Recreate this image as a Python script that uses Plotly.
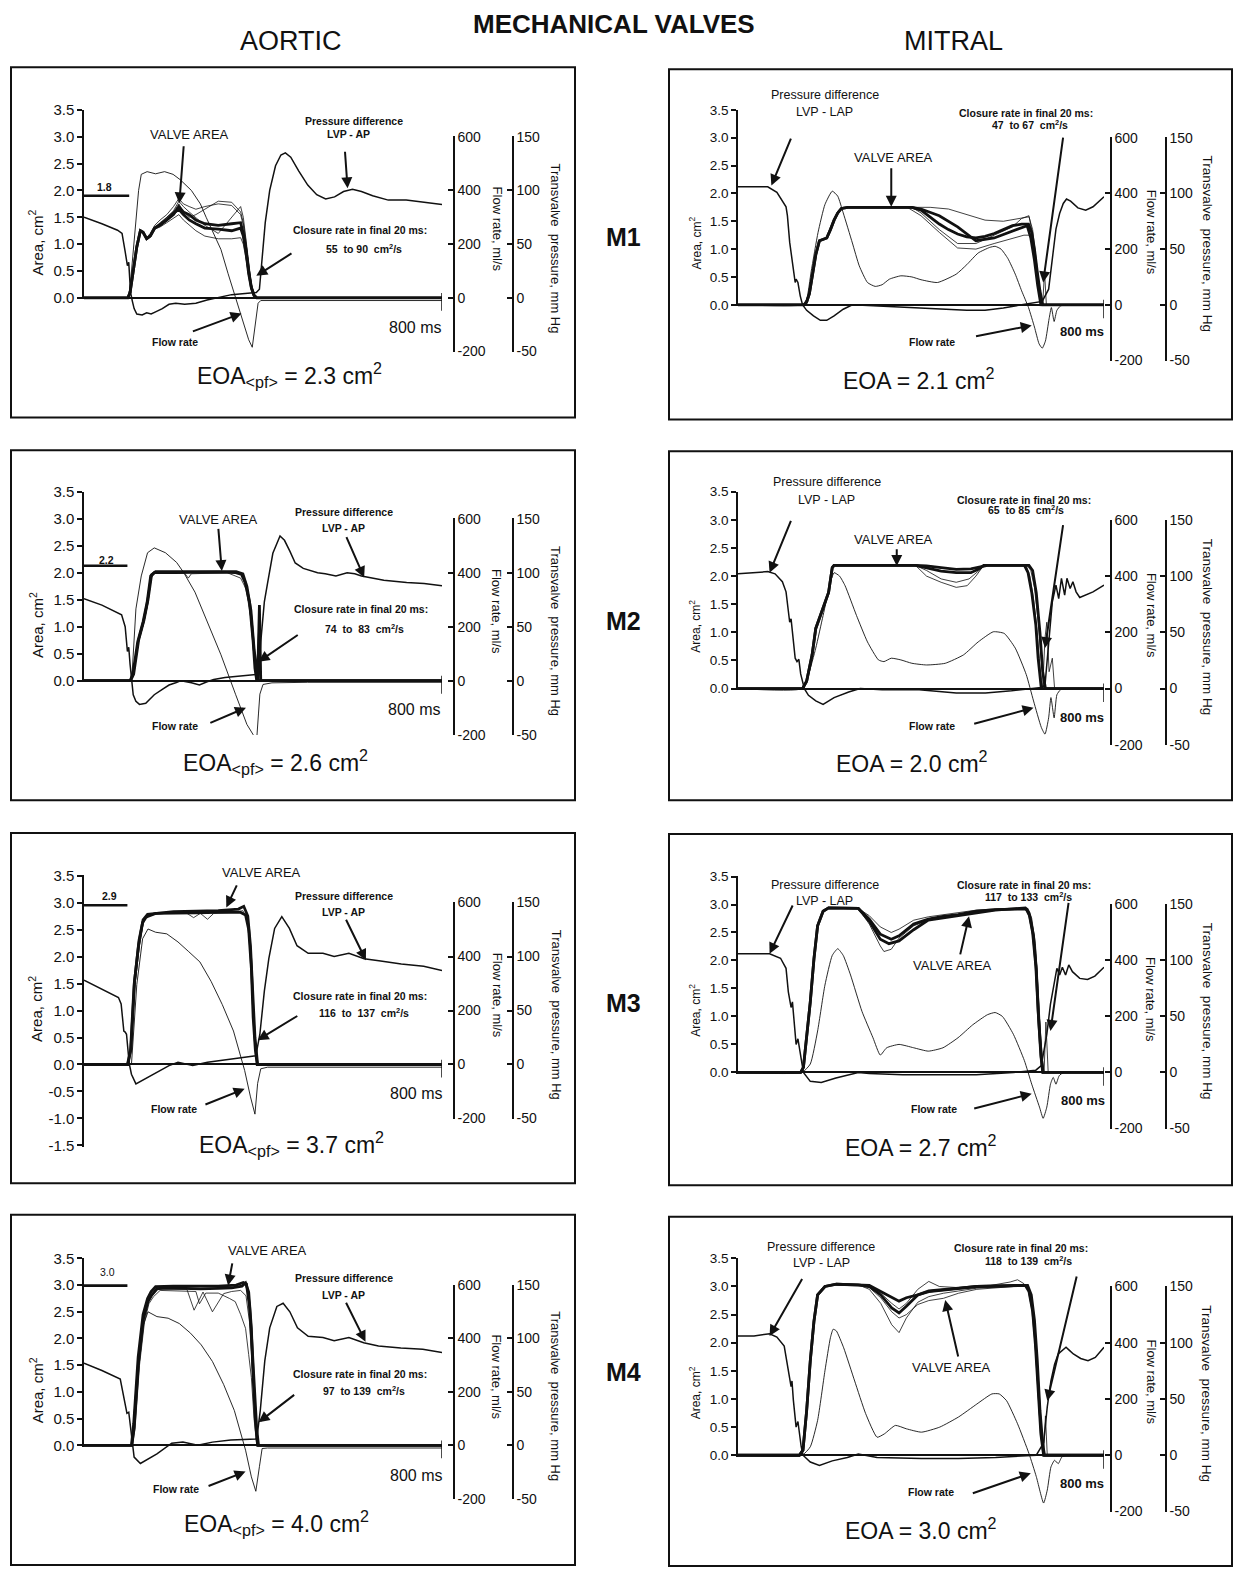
import plotly.graph_objects as go

W, H = 1234, 1576
FONT = "Liberation Sans, Arial, Helvetica, sans-serif"
INK = "#111111"

# ---------------- text / ticks ----------------
TITLE_MAIN = "MECHANICAL VALVES"
COLUMN_TITLES = ["AORTIC", "MITRAL"]
ROW_TITLES = ["M1", "M2", "M3", "M4"]
AREA_TICKS = [0.0, 0.5, 1.0, 1.5, 2.0, 2.5, 3.0, 3.5]
AREA_TICKS_NEG = [-1.5, -1.0, -0.5, 0.0, 0.5, 1.0, 1.5, 2.0, 2.5, 3.0, 3.5]
FLOW_TICKS = [-200, 0, 200, 400, 600]
PRESSURE_TICKS = [-50, 0, 50, 100, 150]
AREA_TITLE = "Area, cm<sup>2</sup>"
FLOW_TITLE = "Flow rate, ml/s"
PRESSURE_TITLE = "Transvalve  pressure, mm Hg"
TIME_LABEL = "800 ms"
T_END = 800

# ---------------- AORTIC M1 ----------------
AR1_PRESSURE = [(0,75),(40,69),(75,63),(85,60),(92,43),(97,30),(100,33),(104,5),(108,-3),(112,-10),(118,-15),(130,-16),(140,-14),(150,-15),(160,-13),(175,-10),(190,-6),(205,-5),(225,-6),(250,-5),(275,-2),(300,0),(330,3),(360,4),(385,5),(392,8),(398,35),(405,70),(415,100),(428,123),(440,133),(450,135),(462,131),(480,118),(500,105),(520,96),(540,92),(560,94),(580,99),(600,101),(620,99),(645,95),(680,91),(720,91),(760,89),(800,87)]
AR1_FLOW = [(0,0),(98,0),(103,40),(110,180),(116,300),(122,400),(128,460),(141,470),(160,462),(180,470),(199,460),(215,440),(240,400),(260,350),(273,300),(290,240),(306,180),(322,90),(339,0),(350,-60),(360,-110),(368,-156),(376,-184),(382,-110),(389,-20),(395,-10),(420,-10),(500,-10),(600,-8),(700,-10),(800,-10)]
AR1_AREA_THICK = [
    [(0,0),(98,0),(103,0.1),(110,0.5),(118,0.95),(126,1.25),(132,1.22),(140,1.1),(148,1.15),(158,1.3),(170,1.35),(185,1.45),(200,1.55),(212,1.7),(222,1.6),(235,1.55),(250,1.45),(270,1.38),(300,1.35),(330,1.38),(350,1.4),(356,1.2),(362,0.9),(368,0.5),(374,0.2),(380,0.05),(386,0),(800,0)],
    [(0,0),(98,0),(103,0.1),(110,0.5),(118,0.95),(126,1.25),(132,1.22),(140,1.1),(148,1.15),(158,1.3),(170,1.36),(185,1.45),(200,1.58),(212,1.65),(222,1.55),(235,1.45),(250,1.38),(270,1.3),(300,1.28),(330,1.25),(350,1.3),(356,1.15),(362,0.85),(368,0.45),(374,0.18),(380,0.04),(386,0),(800,0)],
]
AR1_AREA_THIN = [
    [(0,0),(98,0),(103,0.1),(110,0.5),(118,0.95),(126,1.25),(132,1.22),(140,1.12),(148,1.2),(158,1.35),(170,1.45),(185,1.55),(200,1.7),(212,1.85),(222,1.75),(235,1.7),(250,1.65),(270,1.7),(300,1.75),(330,1.72),(350,1.55),(356,1.35),(362,1.0),(368,0.6),(374,0.25),(380,0.08),(386,0),(800,0)],
    [(0,0),(98,0),(103,0.1),(110,0.5),(118,0.95),(126,1.25),(132,1.22),(140,1.1),(148,1.15),(158,1.28),(170,1.32),(185,1.4),(200,1.48),(212,1.55),(222,1.45),(235,1.35),(250,1.25),(270,1.15),(300,1.1),(330,1.1),(350,1.12),(356,1.0),(362,0.75),(368,0.45),(374,0.15),(380,0.03),(386,0),(800,0)],
    [(0,0),(98,0),(103,0.1),(110,0.5),(118,0.95),(126,1.25),(132,1.22),(140,1.1),(148,1.15),(158,1.3),(170,1.38),(185,1.5),(200,1.62),(212,1.8),(222,1.7),(235,1.6),(250,1.5),(270,1.35),(300,1.2),(330,1.5),(350,1.7),(356,1.5),(362,1.1),(368,0.6),(374,0.25),(380,0.05),(386,0),(800,0)],
    [(0,0),(98,0),(103,0.1),(110,0.5),(118,0.95),(126,1.25),(132,1.22),(140,1.1),(148,1.15),(158,1.3),(170,1.4),(185,1.5),(200,1.6),(212,1.75),(222,1.6),(235,1.5),(250,1.55),(270,1.65),(300,1.8),(330,1.78),(350,1.6),(356,1.4),(362,1.05),(368,0.55),(374,0.2),(380,0.05),(386,0),(800,0)],
]
AR1_REF = (1.9, 101)
AR1_TEXT = [("VALVE AREA",236,3.05,13,0),("Pressure difference",604,3.30,10.5,1),("LVP - AP",590,3.06,10.5,1),
            ("1.8",46,2.07,10.5,1),("Closure rate in final 20 ms:",616,1.27,10.5,1),("55  to 90  cm<sup>2</sup>/s",625,0.91,10.5,1),
            ("Flow rate",203,-0.83,10.5,1),("EOA<sub>&lt;pf&gt;</sub> = 2.3 cm<sup>2</sup>",459,-1.43,23,0)]
AR1_ARROWS = [(223,2.84,213,1.76),(583,2.74,589,2.04),(467,0.84,385,0.41),(240,-0.63,352,-0.29)]
AR1_TIME_POS = (740, -0.56)

# ---------------- AORTIC M2 ----------------
AR2_PRESSURE = [(0,76),(40,70),(84,61),(92,50),(97,27),(100,31),(103,15),(107,1),(110,-13),(116,-19),(124,-22),(138,-21),(157,-13),(175,-8),(190,-4),(205,-2),(217,0),(240,-2),(258,-4),(275,-1),(290,1),(315,3),(339,4),(360,5),(382,6),(390,6),(395,36),(399,55),(403,73),(410,90),(422,118),(438,134),(448,130),(460,120),(472,109),(490,104),(506,102),(522,100),(539,99),(563,97),(588,100),(605,99),(620,97),(645,95),(670,93),(721,91),(760,90),(800,88)]
AR2_FLOW = [(0,0),(103,0),(108,40),(116,266),(128,388),(142,474),(157,492),(182,474),(207,438),(223,400),(248,328),(273,230),(306,96),(339,-52),(364,-162),(378,-200),(386,-215),(390,-120),(393,-50),(400,-14),(420,-8),(500,-6),(600,-6),(700,-6),(800,-6)]
AR2_AREA_THICK = [
    [(0,0),(103,0),(109,0.11),(120,0.72),(132,1.09),(141,1.45),(149,1.94),(157,2.0),(200,2.0),(250,2.01),(300,2.01),(339,2.0),(352,1.97),(360,1.82),(370,1.45),(378,0.72),(382,0.23),(386,0),(800,0)],
    [(0,0),(104,0),(111,0.12),(122,0.75),(134,1.12),(143,1.5),(151,1.96),(160,2.02),(340,2.02),(355,1.98),(364,1.75),(373,1.3),(380,0.6),(386,0.05),(388,0),(392,1.4),(395,0),(800,0)],
]
AR2_AREA_THIN = [
    [(0,0),(103,0),(110,0.1),(121,0.7),(133,1.05),(142,1.4),(150,1.9),(158,1.99),(225,1.99),(233,1.9),(240,1.98),(320,2.0),(335,1.95),(350,1.9),(362,1.7),(372,1.2),(380,0.5),(385,0),(390,0.9),(393,0),(800,0)],
]
AR2_REF = (2.13, 97)
AR2_TEXT = [("VALVE AREA",300,2.98,13,0),("Pressure difference",581,3.13,10.5,1),("LVP - AP",581,2.83,10.5,1),
            ("2.2",50,2.24,10.5,1),("Closure rate in final 20 ms:",618,1.33,10.5,1),("74  to  83  cm<sup>2</sup>/s",626,0.97,10.5,1),
            ("Flow rate",204,-0.84,10.5,1),("EOA<sub>&lt;pf&gt;</sub> = 2.6 cm<sup>2</sup>",428,-1.51,23,0)]
AR2_ARROWS = [(300,2.83,308,2.03),(585,2.68,626,1.91),(481,0.86,390,0.35),(279,-0.79,362,-0.5)]
AR2_TIME_POS = (738, -0.53)

# ---------------- AORTIC M3 ----------------
AR3_PRESSURE = [(0,78),(40,70),(77,62),(83,56),(89,31),(92,30),(95,28),(101,1),(106,-9),(116,-18),(125,-16),(143,-12),(168,-6),(190,-1),(210,2),(243,-1),(276,2),(309,4),(351,6),(384,8),(393,28),(403,68),(413,98),(426,126),(442,137),(459,126),(476,110),(501,103),(534,103),(559,100),(592,103),(626,98),(659,96),(709,93),(759,91),(800,87)]
AR3_FLOW = [(0,0),(106,0),(118,296),(131,466),(143,502),(160,490),(185,484),(210,454),(234,418),(259,380),(284,308),(309,222),(334,124),(359,-22),(372,-120),(382,-184),(388,-70),(395,-16),(410,-10),(500,-10),(600,-10),(700,-10),(800,-10)]
AR3_AREA_THICK = [
    [(0,0),(97,0),(104,0.26),(112,1.48),(122,2.21),(131,2.63),(138,2.72),(141,2.74),(160,2.8),(200,2.81),(250,2.81),(300,2.82),(349,2.82),(361,2.77),(368,2.5),(374,1.78),(378,0.87),(383,0.26),(387,0),(800,0)],
    [(0,0),(98,0),(105,0.3),(113,1.55),(123,2.3),(132,2.68),(142,2.78),(200,2.83),(300,2.85),(345,2.88),(357,2.93),(366,2.75),(372,2.2),(377,1.3),(382,0.5),(388,0),(800,0)],
]
AR3_AREA_THIN = [
    [(0,0),(98,0),(105,0.25),(113,1.4),(123,2.15),(132,2.6),(140,2.75),(160,2.8),(230,2.8),(245,2.72),(260,2.8),(276,2.69),(290,2.8),(340,2.82),(355,2.85),(364,2.7),(370,2.3),(376,1.5),(381,0.6),(386,0),(800,0)],
]
AR3_REF = (2.95, 97)
AR3_TEXT = [("VALVE AREA",397,3.55,13,0),("Pressure difference",580,3.13,10.5,1),("LVP - AP",580,2.82,10.5,1),
            ("2.9",56,3.13,10.5,1),("Closure rate in final 20 ms:",617,1.26,10.5,1),("116  to  137  cm<sup>2</sup>/s",625,0.96,10.5,1),
            ("Flow rate",201,-0.82,10.5,1),("EOA<sub>&lt;pf&gt;</sub> = 3.7 cm<sup>2</sup>",463,-1.48,23,0)]
AR3_ARROWS = [(343,3.34,318,2.91),(584,2.7,630,1.93),(480,0.91,388,0.45),(268,-0.75,359,-0.45)]
AR3_TIME_POS = (742, -0.54)

# ---------------- AORTIC M4 ----------------
AR4_PRESSURE = [(0,77),(40,70),(81,62),(88,48),(96,30),(100,31),(103,20),(107,2),(112,-11),(126,-17),(139,-14),(163,-8),(196,2),(221,3),(254,0),(287,3),(328,5),(370,6),(386,6),(394,33),(404,79),(415,110),(431,130),(445,133),(460,125),(477,110),(501,102),(534,101),(559,98),(592,101),(625,96),(658,93),(708,91),(757,90),(800,87)]
AR4_FLOW = [(0,0),(107,0),(118,254),(130,438),(143,500),(163,482),(188,476),(213,456),(238,420),(262,376),(287,314),(312,228),(336,130),(361,-18),(374,-118),(384,-172),(392,-80),(398,-12),(410,-10),(500,-10),(600,-10),(700,-10),(800,-10)]
AR4_AREA_THICK = [
    [(0,0),(107,0),(112,0.34),(122,1.57),(133,2.38),(143,2.69),(151,2.81),(163,2.93),(180,2.95),(220,2.94),(260,2.93),(300,2.94),(330,2.95),(353,2.98),(361,3.04),(368,2.87),(374,2.19),(378,1.27),(383,0.46),(388,0),(800,0)],
    [(0,0),(106,0),(111,0.4),(121,1.65),(132,2.45),(142,2.75),(150,2.88),(160,2.97),(200,2.98),(300,2.98),(340,3.0),(356,3.05),(363,3.02),(370,2.6),(376,1.8),(381,0.9),(386,0.3),(390,0),(800,0)],
]
AR4_AREA_THIN = [
    [(0,0),(107,0),(113,0.3),(123,1.5),(134,2.35),(144,2.68),(152,2.8),(165,2.92),(230,2.92),(246,2.53),(266,2.87),(287,2.5),(312,2.84),(330,2.88),(350,2.9),(362,2.8),(370,2.3),(376,1.4),(381,0.5),(386,0),(800,0)],
    [(0,0),(108,0),(114,0.3),(124,1.5),(135,2.3),(145,2.65),(155,2.78),(170,2.9),(250,2.88),(258,2.65),(272,2.85),(300,2.85),(325,2.75),(338,2.69),(350,2.45),(361,2.19),(368,1.7),(374,1.27),(380,0.5),(386,0),(800,0)],
]
AR4_REF = (2.99, 97)
AR4_TEXT = [("VALVE AREA",411,3.64,13,0),("Pressure difference",580,3.13,10.5,1),("LVP - AP",580,2.82,10.5,1),
            ("3.0",52,3.25,10.5,0),("Closure rate in final 20 ms:",617,1.33,10.5,1),("97  to 139  cm<sup>2</sup>/s",625,1.02,10.5,1),
            ("Flow rate",205,-0.82,10.5,1),("EOA<sub>&lt;pf&gt;</sub> = 4.0 cm<sup>2</sup>",431,-1.45,23,0)]
AR4_ARROWS = [(332,3.43,322,2.99),(584,2.69,629,1.94),(473,0.96,390,0.43),(275,-0.77,361,-0.49)]
AR4_TIME_POS = (741, -0.56)

# ---------------- MITRAL M1 ----------------
MR1_PRESSURE = [(0,106),(30,106),(65,106),(85,101),(95,95),(105,88),(108,80),(113,56),(120,35),(125,20),(127,23),(131,20),(136,8),(141,0),(150,-5),(165,-10),(180,-14),(194,-14),(210,-10),(230,-4),(250,0),(300,-1),(350,-2),(400,-3),(450,-4),(500,-5),(540,-5),(580,-3),(620,0),(650,2),(665,3),(679,14),(687,44),(695,68),(703,82),(711,91),(718,95),(727,93),(743,87),(760,85),(776,88),(800,97)]
MR1_FLOW = [(0,0),(140,0),(150,20),(160,120),(175,260),(190,360),(206,408),(218,390),(230,330),(250,222),(265,140),(283,80),(300,66),(315,72),(331,92),(356,104),(380,100),(400,90),(436,80),(477,110),(500,144),(525,186),(550,206),(562,210),(575,200),(590,166),(606,110),(620,50),(635,-10),(648,-80),(658,-140),(665,-156),(672,-130),(680,-50),(685,-10),(691,-60),(697,-20),(705,-4),(720,0),(800,0)]
MR1_AREA_RISE = [(0,0),(145,0),(150,0.05),(156,0.2),(163,0.55),(170,0.9),(178,1.15),(186,1.18),(194,1.2),(202,1.35),(210,1.52),(218,1.65),(226,1.73),(240,1.75)]
MR1_AREA_THICK_TAILS = [
    [(300,1.75),(380,1.75),(400,1.7),(420,1.58),(440,1.45),(460,1.35),(480,1.27),(500,1.22),(520,1.2),(540,1.23),(560,1.28),(580,1.35),(600,1.42),(620,1.45),(635,1.45),(642,1.3),(648,1.0),(654,0.6),(660,0.25),(666,0),(800,0)],
    [(380,1.75),(400,1.72),(440,1.6),(480,1.4),(520,1.15),(560,1.2),(600,1.32),(632,1.42),(640,1.2),(648,0.8),(655,0.35),(662,0),(800,0)],
]
MR1_AREA_THIN_TAILS = [
    [(420,1.75),(460,1.72),(500,1.62),(540,1.52),(580,1.5),(620,1.55),(636,1.58),(644,1.35),(650,0.9),(656,0.45),(662,0.1),(666,0),(670,0.6),(674,0),(800,0)],
    [(370,1.75),(400,1.6),(440,1.3),(480,1.02),(520,1.0),(560,1.1),(600,1.2),(625,1.25),(638,1.25),(645,1.0),(652,0.55),(658,0.2),(664,0),(800,0)],
    [(380,1.75),(400,1.65),(440,1.35),(480,1.1),(520,1.1),(560,1.25),(600,1.4),(620,1.55),(636,1.6),(643,1.3),(650,0.8),(657,0.3),(664,0),(800,0)],
]
MR1_TEXT = [("Pressure difference",190,3.77,12.5,0),("LVP - LAP",190,3.47,12.5,0),("VALVE AREA",339,2.64,13,0),
            ("Closure rate in final 20 ms:",630,3.44,10.5,1),("47  to 67  cm<sup>2</sup>/s",638,3.23,10.5,1),
            ("Flow rate",424,-0.67,10.5,1),("EOA = 2.1 cm<sup>2</sup>",396,-1.34,23,0)]
MR1_ARROWS = [(117,3.0,73,2.14),(335,2.47,335,1.76),(711,3.0,667,0.4),(517,-0.57,642,-0.37)]
MR1_TIME_POS = (752, -0.48)

# ---------------- MITRAL M2 ----------------
MR2_PRESSURE = [(0,102),(30,103),(65,104),(81,102),(97,95),(105,86),(109,71),(113,59),(116,62),(120,45),(125,27),(129,24),(133,26),(137,13),(145,0),(154,-6),(170,-11),(186,-14),(210,-8),(242,-3),(267,0),(315,-1),(396,-1),(477,-4),(541,-4),(598,-2),(638,0),(663,1),(671,3),(679,42),(687,77),(695,92),(701,80),(707,98),(714,83),(719,98),(726,89),(732,95),(739,86),(747,81),(760,83),(776,86),(800,92)]
MR2_FLOW = [(0,0),(140,0),(154,50),(170,144),(186,260),(202,378),(210,412),(222,400),(234,366),(259,260),(283,166),(307,102),(319,96),(335,108),(356,102),(380,90),(412,84),(453,90),(493,120),(525,166),(558,202),(582,196),(606,144),(630,50),(646,-44),(663,-138),(671,-162),(679,-104),(684,-32),(691,-104),(697,-22),(705,-4),(720,0),(800,0)]
MR2_AREA_RISE = [(0,0),(141,0),(150,0.13),(162,0.6),(170,1.07),(186,1.42),(198,1.71),(206,2.15),(210,2.19),(388,2.19)]
MR2_AREA_THICK_TAILS = [
    [(412,2.15),(444,2.09),(477,2.06),(509,2.06),(525,2.12),(537,2.19),(626,2.19),(634,2.06),(642,1.71),(651,1.13),(656,0.54),(663,0),(800,0)],
    [(412,2.18),(444,2.15),(477,2.12),(509,2.13),(530,2.17),(545,2.19),(636,2.19),(644,2.1),(652,1.7),(660,1.0),(666,0.3),(672,0),(800,0)],
]
MR2_AREA_THIN_TAILS = [
    [(412,2.0),(444,1.89),(477,1.8),(501,1.83),(520,2.0),(537,2.19),(630,2.19),(638,2.0),(646,1.6),(654,1.0),(660,0.4),(666,0),(671,0.9),(675,1.18),(680,0.3),(687,0.54),(692,0),(800,0)],
    [(412,2.1),(444,1.95),(477,1.89),(505,1.95),(525,2.08),(540,2.19),(632,2.19),(640,2.1),(648,1.8),(656,1.2),(663,0.5),(669,0),(800,0)],
]
MR2_TEXT = [("Pressure difference",194,3.68,12.5,0),("LVP - LAP",194,3.35,12.5,0),("VALVE AREA",339,2.65,13,0),
            ("Closure rate in final 20 ms:",626,3.35,10.5,1),("65  to 85  cm<sup>2</sup>/s",630,3.18,10.5,1),
            ("Flow rate",424,-0.66,10.5,1),("EOA = 2.0 cm<sup>2</sup>",380,-1.31,23,0)]
MR2_ARROWS = [(117,3.0,69,2.06),(347,2.5,347,2.18),(711,2.91,671,0.72),(513,-0.63,646,-0.34)]
MR2_TIME_POS = (752, -0.52)

# ---------------- MITRAL M3 ----------------
MR3_PRESSURE = [(0,106),(30,106),(69,106),(93,102),(105,93),(110,72),(116,58),(119,63),(122,49),(127,25),(131,30),(135,19),(143,0),(158,-8),(182,-9),(214,-5),(263,0),(287,-1),(360,-2),(440,-2),(521,-2),(602,0),(651,2),(663,6),(675,34),(683,61),(691,78),(697,93),(703,87),(709,94),(716,87),(723,96),(731,90),(747,84),(764,83),(780,86),(800,94)]
MR3_FLOW = [(0,0),(140,0),(158,30),(174,148),(190,312),(206,418),(218,442),(230,418),(246,348),(271,218),(295,124),(311,62),(325,88),(352,100),(384,88),(416,76),(448,88),(481,124),(513,170),(545,206),(562,214),(578,200),(602,136),(626,42),(642,-42),(659,-124),(667,-164),(675,-124),(683,-42),(689,-18),(695,-42),(702,-12),(712,0),(800,0)]
MR3_AREA_RISE = [(0,0),(137,0),(143,0.09),(151,0.68),(158,1.26),(166,2.03),(174,2.62),(186,2.88),(198,2.94),(263,2.93)]
MR3_AREA_THICK_TAILS = [
    [(287,2.74),(311,2.47),(335,2.38),(352,2.44),(384,2.65),(416,2.74),(448,2.79),(481,2.82),(521,2.88),(562,2.91),(610,2.92),(630,2.92),(638,2.79),(646,2.44),(652,1.85),(657,0.97),(663,0.26),(667,0),(800,0)],
    [(287,2.7),(311,2.38),(330,2.3),(352,2.35),(384,2.55),(416,2.72),(448,2.76),(481,2.79),(521,2.85),(562,2.9),(628,2.94),(636,2.85),(644,2.5),(651,1.9),(656,1.1),(662,0.3),(666,0),(800,0)],
]
MR3_AREA_THIN_TAILS = [
    [(287,2.65),(311,2.26),(319,2.16),(335,2.2),(352,2.4),(384,2.62),(416,2.72),(448,2.78),(481,2.8),(521,2.86),(562,2.9),(632,2.93),(640,2.7),(648,2.2),(654,1.4),(660,0.6),(666,0.1),(669,0),(673,0.9),(678,0),(800,0)],
    [(287,2.8),(311,2.6),(335,2.5),(352,2.56),(384,2.72),(416,2.78),(448,2.82),(481,2.85),(521,2.9),(562,2.92),(634,2.93),(642,2.75),(650,2.3),(656,1.5),(662,0.6),(668,0),(800,0)],
]
MR3_TEXT = [("Pressure difference",190,3.35,12.5,0),("LVP - LAP",190,3.06,12.5,0),("VALVE AREA",469,1.91,13,0),
            ("Closure rate in final 20 ms:",626,3.35,10.5,1),("117  to 133  cm<sup>2</sup>/s",634,3.15,10.5,1),
            ("Flow rate",428,-0.66,10.5,1),("EOA = 2.7 cm<sup>2</sup>",400,-1.32,23,0)]
MR3_ARROWS = [(121,3.0,69,2.12),(723,3.03,683,0.74),(485,2.09,505,2.79),(513,-0.65,642,-0.38)]
MR3_TIME_POS = (755, -0.5)

# ---------------- MITRAL M4 ----------------
MR4_PRESSURE = [(0,106),(35,106),(69,108),(85,105),(101,97),(109,78),(113,66),(116,61),(118,66),(121,49),(127,25),(131,30),(138,8),(142,0),(158,-6),(178,-9),(206,-5),(239,-2),(263,1),(304,-2),(401,-3),(482,-3),(563,-2),(628,-1),(652,0),(668,11),(676,43),(684,66),(692,81),(700,90),(708,93),(717,96),(725,93),(733,90),(749,86),(765,84),(781,87),(800,96)]
MR4_FLOW = [(0,0),(140,0),(158,30),(174,124),(190,300),(202,418),(208,448),(215,442),(231,382),(255,264),(279,148),(304,64),(320,76),(344,106),(368,94),(401,82),(441,100),(482,136),(522,182),(555,218),(571,218),(587,194),(611,112),(636,6),(652,-76),(668,-170),(676,-124),(684,-42),(692,-18),(700,-30),(708,-6),(720,0),(800,0)]
MR4_AREA_RISE = [(0,0),(134,0),(142,0.09),(150,0.79),(158,1.68),(166,2.38),(174,2.85),(190,3.0),(215,3.04),(263,3.03)]
MR4_AREA_THICK_TAILS = [
    [(287,3.0),(312,2.85),(336,2.62),(352,2.53),(368,2.65),(393,2.85),(417,2.91),(449,2.94),(482,2.96),(522,3.0),(603,3.02),(628,3.02),(636,2.91),(644,2.56),(650,1.97),(656,1.09),(662,0.38),(668,0),(800,0)],
    [(287,3.02),(312,2.91),(336,2.8),(352,2.74),(368,2.8),(393,2.85),(417,2.92),(449,2.95),(482,2.97),(522,3.0),(603,3.02),(633,3.02),(641,2.85),(648,2.4),(654,1.7),(660,0.8),(666,0.2),(670,0),(800,0)],
]
MR4_AREA_THIN_TAILS = [
    [(287,2.95),(312,2.7),(336,2.32),(352,2.18),(368,2.44),(393,2.72),(417,2.82),(449,2.88),(482,2.92),(522,2.97),(603,3.0),(632,3.01),(640,2.8),(647,2.3),(653,1.5),(659,0.7),(665,0.1),(668,0),(672,0.7),(676,0),(800,0)],
    [(287,3.0),(312,2.88),(336,2.7),(352,2.6),(368,2.7),(393,2.95),(417,3.09),(440,3.0),(482,2.98),(540,3.0),(595,3.08),(611,3.12),(625,3.05),(634,2.95),(642,2.6),(649,2.0),(655,1.2),(661,0.4),(667,0),(800,0)],
    [(287,2.98),(312,2.8),(336,2.55),(352,2.44),(368,2.5),(393,2.68),(417,2.75),(449,2.79),(482,2.88),(522,2.95),(603,3.0),(630,3.0),(638,2.88),(646,2.45),(652,1.8),(658,0.9),(664,0.2),(668,0),(800,0)],
]
MR4_TEXT = [("Pressure difference",182,3.71,12.5,0),("LVP - LAP",182,3.41,12.5,0),("VALVE AREA",466,1.56,13,0),
            ("Closure rate in final 20 ms:",619,3.68,10.5,1),("118  to 139  cm<sup>2</sup>/s",636,3.47,10.5,1),
            ("Flow rate",421,-0.65,10.5,1),("EOA = 3.0 cm<sup>2</sup>",401,-1.32,23,0)]
MR4_ARROWS = [(142,3.15,69,2.12),(741,3.18,676,0.97),(482,1.74,453,2.76),(510,-0.68,640,-0.32)]
MR4_TIME_POS = (753, -0.5)

# ---------------- panel table ----------------
def mitral(rise, tails):
    return [rise + t for t in tails]

PANELS = [
    dict(col=0, row=0, amin=0.0, pressure=AR1_PRESSURE, flow=AR1_FLOW, thick=AR1_AREA_THICK, thin=AR1_AREA_THIN, ref=AR1_REF, text=AR1_TEXT, arrows=AR1_ARROWS, tpos=AR1_TIME_POS),
    dict(col=0, row=1, amin=0.0, pressure=AR2_PRESSURE, flow=AR2_FLOW, thick=AR2_AREA_THICK, thin=AR2_AREA_THIN, ref=AR2_REF, text=AR2_TEXT, arrows=AR2_ARROWS, tpos=AR2_TIME_POS),
    dict(col=0, row=2, amin=-1.5, pressure=AR3_PRESSURE, flow=AR3_FLOW, thick=AR3_AREA_THICK, thin=AR3_AREA_THIN, ref=AR3_REF, text=AR3_TEXT, arrows=AR3_ARROWS, tpos=AR3_TIME_POS),
    dict(col=0, row=3, amin=0.0, pressure=AR4_PRESSURE, flow=AR4_FLOW, thick=AR4_AREA_THICK, thin=AR4_AREA_THIN, ref=AR4_REF, text=AR4_TEXT, arrows=AR4_ARROWS, tpos=AR4_TIME_POS),
    dict(col=1, row=0, amin=0.0, pressure=MR1_PRESSURE, flow=MR1_FLOW, thick=mitral(MR1_AREA_RISE, MR1_AREA_THICK_TAILS), thin=mitral(MR1_AREA_RISE, MR1_AREA_THIN_TAILS), ref=None, text=MR1_TEXT, arrows=MR1_ARROWS, tpos=MR1_TIME_POS),
    dict(col=1, row=1, amin=0.0, pressure=MR2_PRESSURE, flow=MR2_FLOW, thick=mitral(MR2_AREA_RISE, MR2_AREA_THICK_TAILS), thin=mitral(MR2_AREA_RISE, MR2_AREA_THIN_TAILS), ref=None, text=MR2_TEXT, arrows=MR2_ARROWS, tpos=MR2_TIME_POS),
    dict(col=1, row=2, amin=0.0, pressure=MR3_PRESSURE, flow=MR3_FLOW, thick=mitral(MR3_AREA_RISE, MR3_AREA_THICK_TAILS), thin=mitral(MR3_AREA_RISE, MR3_AREA_THIN_TAILS), ref=None, text=MR3_TEXT, arrows=MR3_ARROWS, tpos=MR3_TIME_POS),
    dict(col=1, row=3, amin=0.0, pressure=MR4_PRESSURE, flow=MR4_FLOW, thick=mitral(MR4_AREA_RISE, MR4_AREA_THICK_TAILS), thin=mitral(MR4_AREA_RISE, MR4_AREA_THIN_TAILS), ref=None, text=MR4_TEXT, arrows=MR4_ARROWS, tpos=MR4_TIME_POS),
]

# ---------------- layout geometry (pixels) ----------------
COLS = [
    dict(area_x=84, x800=442, flow_x=454, mmhg_x=513, box_x0=11, box_x1=575,
         area_title_x=36, flow_title_x=497, mmhg_title_x=556,
         area_tick=15, area_title=15, right_tick=14, flow_title=13, mmhg_title=13,
         area_title_a=1.03, flow_title_a=1.29, mmhg_title_a=0.92, time_font=16, time_bold=0),
    dict(area_x=738, x800=1104, flow_x=1111, mmhg_x=1166, box_x0=669, box_x1=1232,
         area_title_x=695, flow_title_x=1151, mmhg_title_x=1207,
         area_tick=13.5, area_title=12, right_tick=14, flow_title=13, mmhg_title=13.5,
         area_title_a=1.1, flow_title_a=1.31, mmhg_title_a=1.1, time_font=13, time_bold=1),
]
ROWS = [
    [(292, 102, 59, 413), (679, 488, 446, 800), (1067, 876, 833, 1187), (1452, 1263, 1219, 1573)],
    [(299, 102, 61, 415), (687, 488, 447, 800), (1075, 877, 834, 1189), (1462, 1263, 1221, 1574)],
]
ROW_TITLE_X = 623
ROW_TITLE_Y = [230, 619, 1005, 1378]
HEAD_Y = 15
COL_HEAD_Y = 32


def unzip(pairs):
    return [p[0] for p in pairs], [p[1] for p in pairs]


def ref(kind, n):
    return kind if n == 1 else f"{kind}{n}"


def lname(kind, n):
    return f"{kind}axis" if n == 1 else f"{kind}axis{n}"


def fx(px):
    return px / W


def fy(py):
    return 1 - py / H


def txt(s, bold):
    return f"<b>{s}</b>" if bold else s


def label(s, x, y, size, angle=0):
    return dict(text=s, x=fx(x), y=fy(y), xref="paper", yref="paper", showarrow=False,
                xanchor="center", yanchor="middle", textangle=angle,
                font=dict(family=FONT, size=size, color=INK))


fig = go.Figure()
layout = dict(width=W, height=H, margin=dict(l=0, r=0, t=0, b=0), autosize=False,
              paper_bgcolor="white", plot_bgcolor="rgba(0,0,0,0)", showlegend=False,
              font=dict(family=FONT, color=INK))
annotations = []
shapes = []

for k, p in enumerate(PANELS, start=1):
    cg = COLS[p["col"]]
    y0, y35, by0, by1 = ROWS[p["col"]][p["row"]]
    ppu = (y0 - y35) / 3.5

    def py(a, y0=y0, ppu=ppu):
        return y0 - a * ppu

    def pxt(t, cg=cg):
        return cg["area_x"] + t / T_END * (cg["x800"] - cg["area_x"])

    na, nf, npr = 3 * k - 2, 3 * k - 1, 3 * k
    xr, ya, yf, yp = ref("x", k), ref("y", na), ref("y", nf), ref("y", npr)
    pad = 0.03
    amin = p["amin"]
    aticks = AREA_TICKS_NEG if amin < 0 else AREA_TICKS

    layout[lname("x", k)] = dict(domain=[fx(cg["area_x"]), fx(cg["x800"])], range=[0, T_END],
                                 anchor=ya, visible=False, fixedrange=True)
    layout[lname("y", na)] = dict(
        domain=[fy(py(amin - pad)), fy(py(3.502))], range=[amin - pad, 3.502], anchor=xr, side="left",
        showline=True, linecolor=INK, linewidth=1.5, ticks="outside", ticklen=5, tickwidth=1.5, tickcolor=INK,
        tickvals=aticks, ticktext=[f"{v:.1f}" for v in aticks],
        tickfont=dict(family=FONT, size=cg["area_tick"], color=INK),
        showgrid=False, zeroline=True, zerolinecolor=INK, zerolinewidth=1.5, fixedrange=True)
    layout[lname("y", nf)] = dict(
        domain=[fy(py(-201 / 200)), fy(py(601 / 200))], range=[-201, 601], anchor="free", position=fx(cg["flow_x"]),
        side="right", showline=True, linecolor=INK, linewidth=1.5, ticks="inside", ticklen=5, tickwidth=1.5,
        tickcolor=INK, tickvals=FLOW_TICKS, ticktext=[str(v) for v in FLOW_TICKS],
        tickfont=dict(family=FONT, size=cg["right_tick"], color=INK), showgrid=False, zeroline=False, fixedrange=True)
    layout[lname("y", npr)] = dict(
        domain=[fy(py(-50.25 / 50)), fy(py(150.25 / 50))], range=[-50.25, 150.25], anchor="free",
        position=fx(cg["mmhg_x"]), side="right", showline=True, linecolor=INK, linewidth=1.5, ticks="inside",
        ticklen=5, tickwidth=1.5, tickcolor=INK, tickvals=PRESSURE_TICKS, ticktext=[str(v) for v in PRESSURE_TICKS],
        tickfont=dict(family=FONT, size=cg["right_tick"], color=INK), showgrid=False, zeroline=False, fixedrange=True)

    # curves
    tx, vy = unzip(p["flow"])
    fig.add_trace(go.Scatter(x=tx, y=vy, xaxis=xr, yaxis=yf, mode="lines",
                             line=dict(color=INK, width=0.9, shape="spline" if p["col"] == 1 else "linear",
                                       smoothing=0.5), hoverinfo="skip"))
    tx, vy = unzip(p["pressure"])
    fig.add_trace(go.Scatter(x=tx, y=vy, xaxis=xr, yaxis=yp, mode="lines",
                             line=dict(color=INK, width=1.5), hoverinfo="skip"))
    for run in p["thin"]:
        tx, vy = unzip(run)
        fig.add_trace(go.Scatter(x=tx, y=vy, xaxis=xr, yaxis=ya, mode="lines",
                                 line=dict(color=INK, width=0.8), hoverinfo="skip"))
    for run in p["thick"]:
        tx, vy = unzip(run)
        fig.add_trace(go.Scatter(x=tx, y=vy, xaxis=xr, yaxis=ya, mode="lines",
                                 line=dict(color=INK, width=2.8), hoverinfo="skip"))
    if p["ref"] is not None:
        level, t_end = p["ref"]
        fig.add_trace(go.Scatter(x=[0, t_end], y=[level, level], xaxis=xr, yaxis=ya, mode="lines",
                                 line=dict(color=INK, width=2.6), hoverinfo="skip"))

    # texts and arrows placed in paper space through the panel's pixel scale
    for s, t, a, size, bold in p["text"]:
        annotations.append(label(txt(s, bold), pxt(t), py(a), size))
    for t0, a0, t1, a1 in p["arrows"]:
        annotations.append(dict(text="", x=fx(pxt(t1)), y=fy(py(a1)), xref="paper", yref="paper",
                                axref="pixel", ayref="pixel",
                                ax=pxt(t0) - pxt(t1), ay=py(a0) - py(a1),
                                showarrow=True, arrowhead=2, arrowsize=1.1, arrowwidth=2, arrowcolor=INK,
                                font=dict(size=2)))
    t, a = p["tpos"]
    annotations.append(label(txt(TIME_LABEL, cg["time_bold"]), pxt(t), py(a), cg["time_font"]))
    shapes.append(dict(type="line", xref=xr, yref=yf, x0=T_END, x1=T_END, y0=18, y1=-48,
                       line=dict(color=INK, width=1.5)))

    # axis titles
    annotations.append(label(AREA_TITLE, cg["area_title_x"], py(cg["area_title_a"]), cg["area_title"], -90))
    annotations.append(label(FLOW_TITLE, cg["flow_title_x"], py(cg["flow_title_a"]), cg["flow_title"], 90))
    annotations.append(label(PRESSURE_TITLE, cg["mmhg_title_x"], py(cg["mmhg_title_a"]), cg["mmhg_title"], 90))

    # panel frame
    shapes.append(dict(type="rect", xref="paper", yref="paper", x0=fx(cg["box_x0"]), x1=fx(cg["box_x1"]),
                       y0=fy(by1), y1=fy(by0), line=dict(color=INK, width=2), fillcolor="rgba(0,0,0,0)"))

# headings
annotations.append(label(f"<b>{TITLE_MAIN}</b>", 614, HEAD_Y, 26))
for cx, s in zip([291, 953], COLUMN_TITLES):
    annotations.append(label(s, cx, COL_HEAD_Y, 27))
for yy, s in zip(ROW_TITLE_Y, ROW_TITLES):
    annotations.append(label(f"<b>{s}</b>", ROW_TITLE_X, yy, 25))

layout["annotations"] = annotations
layout["shapes"] = shapes
fig.update_layout(**layout)
fig.write_html("out.html")
